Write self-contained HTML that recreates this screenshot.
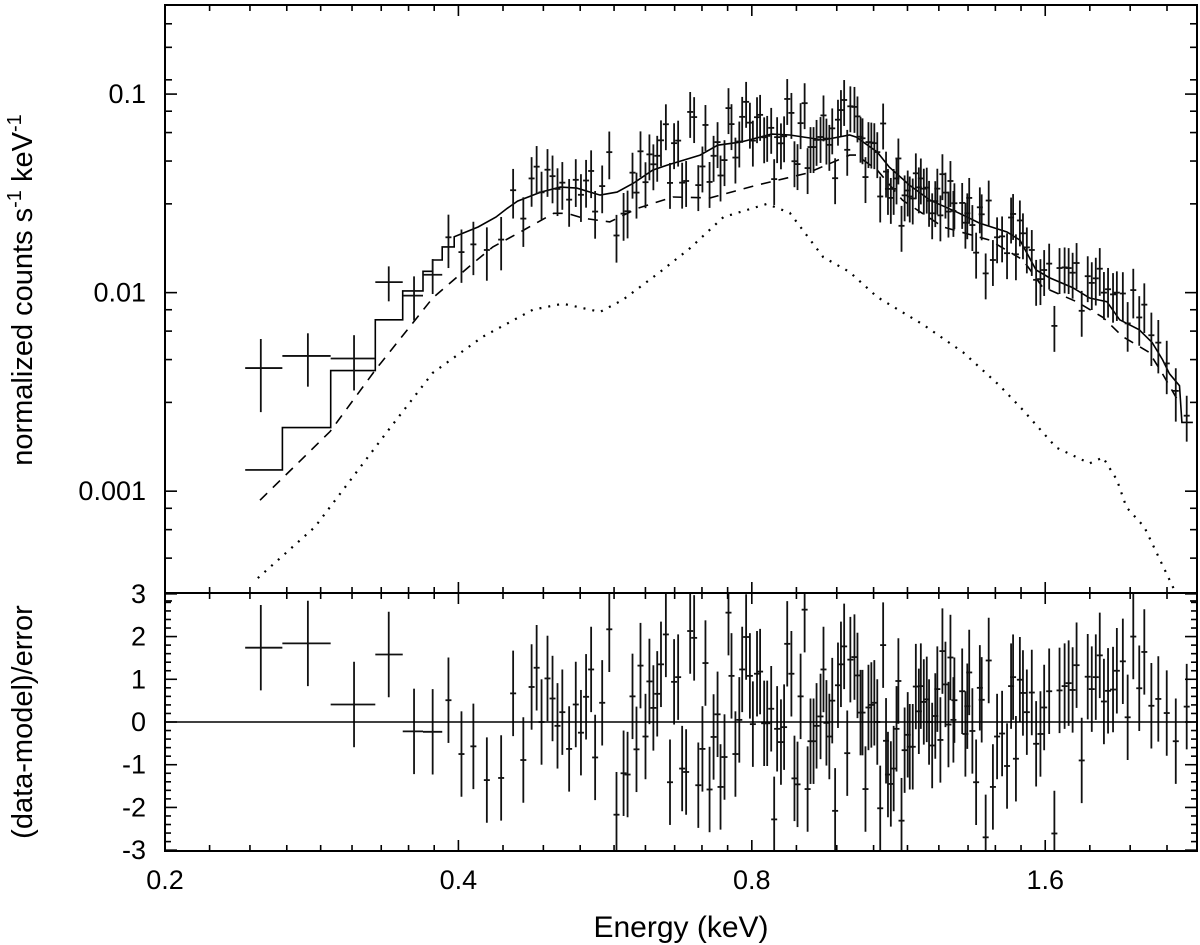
<!DOCTYPE html>
<html><head><meta charset="utf-8"><style>
html,body{margin:0;padding:0;background:#fff;}
svg{display:block;font-family:"Liberation Sans",Arial,sans-serif;}
</style></head><body>
<svg id="chart" width="1200" height="945" viewBox="0 0 1200 945" xmlns="http://www.w3.org/2000/svg">
<defs><clipPath id="clipTop"><rect x="165" y="5" width="1032" height="588"/></clipPath>
<clipPath id="clipBot"><rect x="165" y="593" width="1032" height="258"/></clipPath></defs>
<g id="topPanel"></g>
<g id="botPanel"></g>
<g id="axes"></g>
<text transform="translate(32,290) rotate(-90)" text-anchor="middle" font-size="29">normalized counts s<tspan dy="-11" font-size="20">-1</tspan><tspan dy="11"> keV</tspan><tspan dy="-11" font-size="20">-1</tspan></text>
<text transform="translate(32,722) rotate(-90)" text-anchor="middle" font-size="29">(data-model)/error</text>
<text x="681" y="937" text-anchor="middle" font-size="30">Energy (keV)</text>
</svg>
<script>
// ---- data ----
const modelE=[0.2417,0.2639,0.2639,0.2958,0.2958,0.3287,0.3287,0.3507,0.3507,0.3679,0.3679,0.3764,0.3764,0.385,0.385,0.396,0.396,0.419,0.437,0.449,0.460,0.486,0.509,0.529,0.559,0.582,0.605,0.633,0.655,0.708,0.738,0.779,0.838,0.875,0.947,1.008,1.024,1.076,1.107,1.161,1.219,1.300,1.37,1.462,1.507,1.566,1.615,1.707,1.777,1.851,1.908,1.998,2.06,2.111,2.146,2.197,2.21,2.268];
const modelV=[0.00128,0.00128,0.00209,0.00209,0.00405,0.00405,0.0073,0.0073,0.0102,0.0102,0.0128,0.0128,0.0146,0.0146,0.0170,0.0170,0.0191,0.0214,0.024,0.0266,0.0289,0.0321,0.034,0.0336,0.0310,0.0321,0.0356,0.0414,0.0439,0.0493,0.0553,0.0573,0.0629,0.0622,0.0587,0.0622,0.0607,0.051,0.0429,0.0348,0.0292,0.0254,0.0224,0.0202,0.0184,0.0130,0.0119,0.0106,0.0094,0.0090,0.0073,0.0065,0.0056,0.0046,0.0039,0.0034,0.00222,0.00222];
const compAE=[0.2503,0.2955,0.329,0.3764,0.4143,0.434,0.463,0.501,0.517,0.537,0.572,0.611,0.664,0.725,0.81,0.912,1.008,1.024,1.076,1.142,1.257,1.403,1.518,1.589,1.723,1.834,1.922,2.046,2.111,2.197];
const compAV=[0.000901,0.002,0.0041,0.0094,0.0141,0.0170,0.0202,0.0251,0.0251,0.0237,0.0227,0.0266,0.0303,0.0300,0.0348,0.0400,0.0493,0.0493,0.0414,0.0292,0.0214,0.0184,0.0146,0.0107,0.0090,0.0075,0.0060,0.0050,0.0039,0.00277];
const compBE=[0.249,0.285,0.3377,0.3764,0.4237,0.477,0.512,0.559,0.59,0.644,0.692,0.748,0.829,0.875,0.947,1.008,1.076,1.199,1.318,1.437,1.518,1.642,1.777,1.834,1.895,1.938,2.022,2.172];
const compBV=[0.000365,0.00066,0.00198,0.00394,0.0060,0.0082,0.0088,0.0080,0.0092,0.0127,0.0168,0.0240,0.0280,0.0252,0.0151,0.0127,0.0095,0.0069,0.0050,0.0034,0.00256,0.00166,0.00138,0.00148,0.00114,0.00083,0.00066,0.000316];
const wideLo=[0.2417,0.2639,0.2958,0.3287,0.3507,0.3679];
const wideHi=[0.2639,0.2958,0.3287,0.3507,0.3679,0.385];
const dataE=[0.2508,0.2803,0.3126,0.3393,0.3602,0.3764,
0.3907,0.4029,0.4144,0.4278,0.4425,0.4552,0.4663,0.4755,0.4812,0.4868,0.4937,0.4996,0.5055,0.5113,0.5196,0.5278,0.5343,0.5408,0.5473,0.5525,0.5618,0.5713,0.5811,0.5909,0.5965,0.6035,0.6092,0.615,0.6223,0.6281,0.634,0.6398,0.6455,0.653,0.6594,0.6658,0.6722,0.6786,0.685,0.6916,0.6981,0.705,0.7119,0.717,0.724,0.7309,0.7378,0.743,0.75,0.7571,0.7625,0.7696,0.7767,0.782,0.7893,0.7964,0.802,0.8099,0.8158,0.8237,0.8296,0.8375,0.8434,0.8493,0.857,0.8634,0.8698,0.8784,0.8848,0.8912,0.8977,0.9063,0.9127,0.919,0.9256,0.9322,0.941,0.9476,0.9542,0.9608,0.9674,0.974,0.9806,0.9875,0.995,1.0023,1.0097,1.0195,1.0268,1.0342,1.0391,1.0464,1.0538,1.061,1.0685,1.076,1.0835,1.091,1.0985,1.1035,1.111,1.1185,1.126,1.131,1.1394,1.1478,1.1562,1.1618,1.170,1.1786,1.187,1.1926,1.201,1.2094,1.216,1.225,1.234,1.240,1.249,1.255,1.264,1.273,1.279,1.288,1.291,1.315,1.325,1.331,1.337,1.347,1.359,1.371,1.377,1.39,1.40,1.414,1.428,1.445,1.462,1.476,1.483,1.493,1.507,1.518,1.532,1.55,1.566,1.582,1.596,1.615,1.635,1.655,1.675,1.691,1.707,1.723,1.744,1.769,1.786,1.803,1.82,1.838,1.856,1.878,1.895,1.922,1.944,1.97,1.998,2.022,2.056,2.09,2.132,2.178,2.235];
const dataV=[0.00417,0.0048,0.00466,0.0113,0.00966,0.0123,
0.019,0.016,0.0175,0.0164,0.0185,0.0328,0.0236,0.0376,0.0431,0.032,0.0416,0.0386,0.0333,0.0358,0.0294,0.037,0.0311,0.0367,0.041,0.0256,0.0344,0.051,0.0194,0.025,0.0257,0.0402,0.0319,0.0515,0.036,0.0497,0.0443,0.0489,0.0585,0.0705,0.0357,0.0566,0.0583,0.0358,0.0365,0.0813,0.0766,0.0348,0.0432,0.0699,0.0361,0.0489,0.0573,0.0389,0.0465,0.085,0.0706,0.0479,0.0577,0.0768,0.0914,0.0718,0.0583,0.0765,0.0786,0.0606,0.0616,0.0676,0.0373,0.0607,0.0565,0.0613,0.0945,0.0804,0.0459,0.0444,0.0714,0.09,0.0424,0.0541,0.0541,0.0588,0.0608,0.0781,0.0597,0.0555,0.0672,0.0377,0.0743,0.0831,0.0934,0.0524,0.0868,0.0862,0.0772,0.061,0.0599,0.0382,0.0573,0.057,0.0566,0.051,0.0305,0.0711,0.0407,0.0333,0.03,0.0333,0.0376,0.0474,0.0217,0.0309,0.0327,0.0305,0.0298,0.0399,0.0339,0.0376,0.0334,0.0338,0.029,0.0251,0.0289,0.0334,0.0245,0.0395,0.0319,0.0256,0.0365,0.0258,0.0282,0.0283,0.0225,0.0251,0.03,0.0219,0.0159,0.0269,0.0248,0.0125,0.0291,0.0146,0.019,0.0192,0.0158,0.0239,0.0249,0.0156,0.0231,0.0199,0.0169,0.0164,0.0116,0.0117,0.013,0.014,0.0068,0.0133,0.0134,0.0133,0.0126,0.0141,0.0081,0.0121,0.0112,0.0118,0.0132,0.01,0.0104,0.0098,0.01,0.0099,0.007,0.0103,0.0075,0.0087,0.0061,0.0056,0.0044,0.0032,0.0024];
const dataErr=[0.4,0.3,0.31,0.2,0.25,0.2,
0.3,0.3,0.3,0.3,0.3,0.28,0.28,0.28,0.27,0.27,0.27,0.27,0.27,0.27,0.27,0.27,0.27,0.27,0.27,0.27,0.27,0.27,0.27,0.27,0.27,0.26,0.26,0.26,0.26,0.26,0.26,0.26,0.26,0.26,0.26,0.26,0.26,0.26,0.26,0.26,0.26,0.26,0.26,0.26,0.26,0.26,0.26,0.26,0.26,0.26,0.26,0.26,0.26,0.26,0.26,0.26,0.26,0.26,0.26,0.26,0.26,0.26,0.26,0.26,0.26,0.26,0.26,0.26,0.26,0.26,0.26,0.26,0.26,0.26,0.26,0.26,0.26,0.26,0.26,0.26,0.26,0.26,0.26,0.26,0.26,0.26,0.26,0.26,0.26,0.26,0.26,0.26,0.26,0.26,0.26,0.26,0.26,0.26,0.26,0.26,0.26,0.26,0.26,0.26,0.26,0.26,0.26,0.26,0.26,0.26,0.26,0.26,0.26,0.26,0.26,0.26,0.26,0.26,0.26,0.26,0.26,0.26,0.26,0.26,0.26,0.26,0.26,0.26,0.26,0.26,0.26,0.26,0.26,0.26,0.26,0.26,0.26,0.26,0.26,0.26,0.26,0.26,0.26,0.26,0.26,0.26,0.26,0.26,0.26,0.26,0.26,0.26,0.26,0.26,0.26,0.26,0.26,0.26,0.27,0.27,0.27,0.27,0.28,0.28,0.28,0.28,0.28,0.28,0.28,0.28,0.3,0.3,0.3,0.3];
const resid=[1.74,1.84,0.41,1.58,-0.22,-0.23,
0.51,-0.75,-0.57,-1.36,-1.31,0.67,-0.89,0.82,1.27,0,1.02,0.55,-0.09,0.23,-0.63,0.41,-0.25,0.59,1.23,-0.83,0.45,2.17,-2.17,-1.2,-1.23,0.6,-0.64,1.32,-0.34,0.95,0.33,0.66,1.35,2.05,-1.41,0.94,1.05,-1.09,-1.17,2.13,1.97,-1.48,-0.63,1.38,-1.58,-0.35,0.18,-1.52,-0.82,2.56,1.08,-0.75,0.05,1.23,1.99,1.08,-0.05,1.13,1.18,-0.03,-0.03,0.31,-2.28,-0.16,-0.47,-0.12,1.83,1.13,-1.32,-1.46,0.6,2.63,-1.57,-0.45,-0.45,-0.09,0.13,1.23,-0.02,-0.34,0.5,-2.08,0.86,1.35,1.77,-0.73,1.46,1.52,1.09,0.22,0.22,-1.57,0.34,0.4,0.45,0,-2.02,1.8,-0.44,-1.23,-1.45,-1.09,-0.16,0.96,-2.31,-0.66,-0.3,-0.58,-0.58,0.83,0.25,0.84,0.47,0.53,0,-0.55,0.14,0.77,-0.42,1.66,0.88,-0.06,1.51,0.05,0.51,0.72,-0.28,0.37,1.16,-0.21,-1.41,0.8,0.52,-2.7,1.44,-1.52,-0.34,-0.27,-1.03,0.84,1.05,-0.86,0.99,0.68,0.23,0.69,-0.51,-0.28,0.34,0.72,-2.61,0.74,0.84,0.91,0.75,1.33,-0.9,1.06,0.77,1.05,1.56,0.48,0.73,0.76,1.2,1.42,0.11,2.0,0.79,1.64,0.38,0.54,0.21,-0.45,0.36];
const xTickMajor=[0.2,0.4,0.8,1.6];
const xTickLabels=["0.2","0.4","0.8","1.6"];
const yTopMajor=[0.001,0.01,0.1];
const yTopLabels=["0.001","0.01","0.1"];
const yBotMajor=[3,2,1,0,-1,-2,-3];
const yBotLabels=["3","2","1","0","-1","-2","-3"];

// ---- scales ----
const L=165,R=1197,T=5,MID=593,B=851;
const xmin=0.2,xmax=2.29,ymin=0.000307,ymax=0.281,rmin=-3.02,rmax=3.02;
function X(e){return L+(R-L)*Math.log(e/xmin)/Math.log(xmax/xmin);}
function Y(v){return MID-(MID-T)*Math.log(v/ymin)/Math.log(ymax/ymin);}
function YR(r){return B-(B-MID)*(r-rmin)/(rmax-rmin);}
const NS="http://www.w3.org/2000/svg";
function mk(tag,attrs,parent){const el=document.createElementNS(NS,tag);for(const k in attrs)el.setAttribute(k,attrs[k]);parent.appendChild(el);return el;}
const topEl=document.getElementById('topPanel'),botEl=document.getElementById('botPanel'),axEl=document.getElementById('axes');
const gTop=mk('g',{'clip-path':'url(#clipTop)'},topEl);
const gBot=mk('g',{'clip-path':'url(#clipBot)'},botEl);

function pts(E,V){return E.map((e,i)=>X(e).toFixed(1)+','+Y(V[i]).toFixed(1)).join(' ');}
let el=mk('polyline',{points:pts(compBE,compBV),fill:'none',stroke:'#000','stroke-width':2.2,'stroke-dasharray':'2 7'},gTop);


el=mk('polyline',{points:pts(compAE,compAV),fill:'none',stroke:'#000','stroke-width':1.6,'stroke-dasharray':'10 8'},gTop);


el=mk('polyline',{points:pts(modelE,modelV),fill:'none',stroke:'#000','stroke-width':1.6},gTop);



const nPts=Math.min(dataE.length,dataV.length);
for(let i=0;i<nPts;i++){
  const x=X(dataE[i]);
  const x0=i<wideLo.length?X(wideLo[i]):x-3;
  const x1=i<wideHi.length?X(wideHi[i]):x+3;
  const v=dataV[i];
  const f=(dataErr[i]!==undefined)?dataErr[i]:0.26;
  const g=mk('g',{},gTop);
  
  
  mk('line',{x1:x,x2:x,y1:Y(v*(1+f)),y2:Y(v*(1-f)),stroke:'#111','stroke-width':1.8},g);
  mk('line',{x1:x0,x2:x1,y1:Y(v),y2:Y(v),stroke:'#111','stroke-width':1.8},g);
  if(resid[i]===undefined) continue;
  const r=resid[i];
  const h=mk('g',{},gBot);
  
  
  mk('line',{x1:x,x2:x,y1:YR(r+1),y2:YR(r-1),stroke:'#111','stroke-width':1.8},h);
  mk('line',{x1:x0,x2:x1,y1:YR(r),y2:YR(r),stroke:'#111','stroke-width':1.8},h);
}
el=mk('line',{x1:L,x2:R,y1:YR(0),y2:YR(0),stroke:'#000','stroke-width':1.6},botEl);



// ---- axes ----
const frame={fill:'none',stroke:'#000','stroke-width':2};
el=mk('rect',Object.assign({x:L,y:T,width:R-L,height:MID-T},frame),axEl);


el=mk('rect',Object.assign({x:L,y:MID,width:R-L,height:B-MID},frame),axEl);


function tk(x1,y1,x2,y2){mk('line',{x1:x1,y1:y1,x2:x2,y2:y2,stroke:'#000','stroke-width':1.6},axEl);}
for(let m=0;m<xTickMajor.length;m++){
  const D=xTickMajor[m];
  for(let k=0;k<9;k++){
    const e=D*(1+k/9); if(e>xmax) break;
    const x=X(e), len=k===0?11:6;
    [T,MID,B].forEach(yb=>{ if(yb!==T) tk(x,yb,x,yb-len); if(yb!==B) tk(x,yb,x,yb+len); });
  }
}
xTickMajor.forEach((e,i)=>{const t=mk('text',{x:X(e),y:889,'text-anchor':'middle','font-size':27},axEl);t.textContent=xTickLabels[i];

});
yTopMajor.forEach((D,i)=>{
  for(let k=0;k<5;k++){
    const v=D*(1-0.9*k/5); const y=Y(v); const len=k===0?12:7;
    tk(L,y,L+len,y); tk(R,y,R-len,y);
  }
  const t=mk('text',{x:146,y:Y(D)+9,'text-anchor':'end','font-size':27},axEl);t.textContent=yTopLabels[i];
  
  
});
[0.226,0.172,0.118].forEach(v=>{const y=Y(v);tk(L,y,L+7,y);tk(R,y,R-7,y);});
for(let r=-3;r<=3.001;r+=0.2){const y=YR(r);const maj=Math.abs(r-Math.round(r))<0.01;const len=maj?12:6;tk(L,y,L+len,y);tk(R,y,R-len,y);}
yBotMajor.forEach((r,i)=>{const t=mk('text',{x:146,y:YR(r)+9,'text-anchor':'end','font-size':27},axEl);t.textContent=yBotLabels[i];

});
</script>
</body></html>
